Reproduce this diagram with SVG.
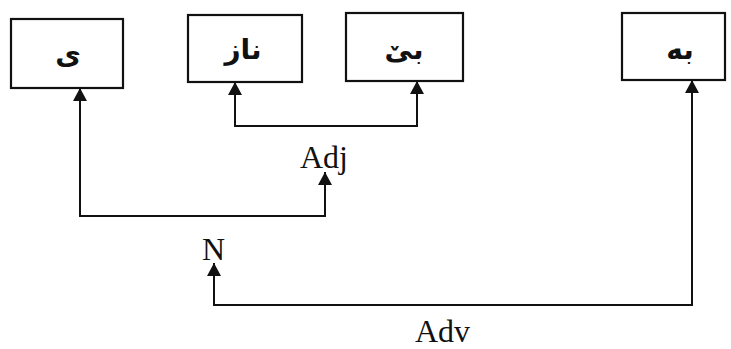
<svg xmlns="http://www.w3.org/2000/svg" width="731" height="349" viewBox="0 0 731 349">
<style>
.box{fill:#fff;stroke:#111;stroke-width:2.2}
.ar{font-family:"DejaVu Sans",sans-serif;font-weight:bold;font-size:28px;fill:#111;text-anchor:middle}
.lbl{font-family:"Liberation Serif","Times New Roman",serif;font-size:32px;fill:#111}
.con{fill:none;stroke:#111;stroke-width:2;marker-start:url(#ah);marker-end:url(#ah)}
</style>
<defs>
<marker id="ah" markerUnits="userSpaceOnUse" markerWidth="14" markerHeight="14" refX="13" refY="7" orient="auto-start-reverse" viewBox="0 0 14 14">
<path d="M0,0 L13,7 L0,14 Z" fill="#111"/>
</marker>
</defs>
<rect width="731" height="349" fill="#fff"/>
<g id="connectors">
<path class="con" d="M214,263 V305 H692 V80"/>
<path class="con" d="M325,172 V216 H80 V88"/>
<path class="con" d="M235,82 V126 H417 V81"/>
</g>
<g id="node-yeh"><rect class="box" x="11" y="19" width="112" height="69"/><text class="ar" x="68" y="64">ی</text></g>
<g id="node-naz"><rect class="box" x="188" y="15" width="114" height="67"/><text class="ar" x="243" y="59">ناز</text></g>
<g id="node-be"><rect class="box" x="346" y="13" width="117" height="68"/><text class="ar" x="404" y="59">بێ</text></g>
<g id="node-bah"><rect class="box" x="622" y="13" width="103" height="67"/><text class="ar" x="680" y="59">به</text></g>
<g id="label-adj"><text class="lbl" x="300" y="168">Adj</text></g>
<g id="label-n"><text class="lbl" x="202" y="260">N</text></g>
<g id="label-adv"><text class="lbl" x="415" y="342">Adv</text></g>
</svg>
